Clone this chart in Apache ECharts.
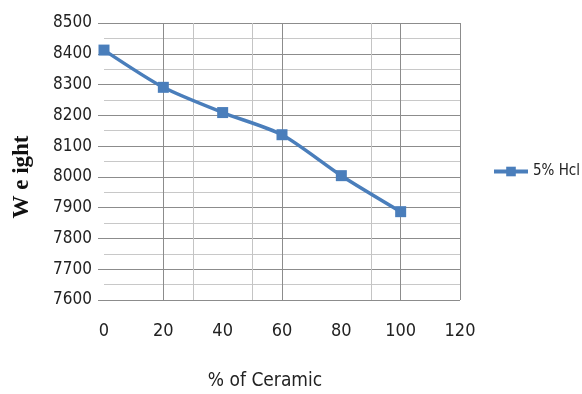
<!DOCTYPE html>
<html><head><meta charset="utf-8">
<script src="https://cdn.jsdelivr.net/npm/echarts@6/dist/echarts.min.js"></script>
<style>html,body{margin:0;padding:0;background:#fff}#c{width:582px;height:394px}</style>
</head><body><div id="c"></div>
<script>
const ceramic = [0, 20, 40, 60, 80, 100];
const weight = [8412, 8291, 8209, 8137, 8004, 7887];
const seriesName = '5% Hcl';
const xTitle = '% of Ceramic';
const yTitle = 'W e ight';
const vGridDark = [20, 60, 100, 120];
const vGridLight = [30, 50, 90];

const font = '"Liberation Sans Narrow", "DejaVu Sans Condensed", sans-serif';
const chart = echarts.init(document.getElementById('c'));
const vlines = vGridDark.map(v => ({xAxis: v, lineStyle: {color: '#8c8c8c', width: 1, type: 'solid'}}))
  .concat(vGridLight.map(v => ({xAxis: v, lineStyle: {color: '#c4c4c4', width: 1, type: 'solid'}})));
chart.setOption({
  animation: false,
  grid: {left: 104, right: 122, top: 23, bottom: 94},
  legend: {
    left: 492, top: 164, orient: 'vertical', padding: 0,
    itemWidth: 34, itemHeight: 12, itemGap: 4,
    lineStyle: {width: 4},
    textStyle: {fontFamily: font, fontSize: 15, color: '#222'},
    data: [seriesName]
  },
  graphic: [
    {type: 'text', x: 265, y: 372,
     style: {text: xTitle, font: '19px ' + font, fill: '#222', align: 'center', verticalAlign: 'top'}},
    {type: 'text', x: 11, y: 177, rotation: Math.PI / 2,
     style: {text: yTitle, font: 'bold 23px "Liberation Serif", serif', fill: '#111',
             align: 'center', verticalAlign: 'top'}}
  ],
  xAxis: {
    type: 'value', min: 0, max: 120, interval: 20,
    axisLine: {show: false}, axisTick: {show: false}, splitLine: {show: false},
    axisLabel: {fontFamily: font, fontSize: 18, color: '#222', margin: 22}
  },
  yAxis: {
    type: 'value', min: 7600, max: 8500, interval: 100,
    axisLine: {show: false},
    axisTick: {show: true, length: 6, lineStyle: {color: '#8c8c8c'}},
    axisLabel: {fontFamily: font, fontSize: 17, color: '#222', margin: 12, formatter: v => String(v)},
    splitLine: {show: true, lineStyle: {color: '#8c8c8c', width: 1}},
    minorTick: {show: false, splitNumber: 2},
    minorSplitLine: {show: true, lineStyle: {color: '#c8c8c8', width: 1}}
  },
  series: [{
    name: seriesName, type: 'line',
    data: ceramic.map((x, i) => [x, weight[i]]),
    smooth: 0.25,
    symbol: 'rect', symbolSize: 11,
    lineStyle: {color: '#4a7ebb', width: 3.5},
    itemStyle: {color: '#4a7ebb'},
    markLine: {silent: true, symbol: 'none', label: {show: false}, data: vlines, z: 1},
    z: 3
  }]
});
</script></body></html>
